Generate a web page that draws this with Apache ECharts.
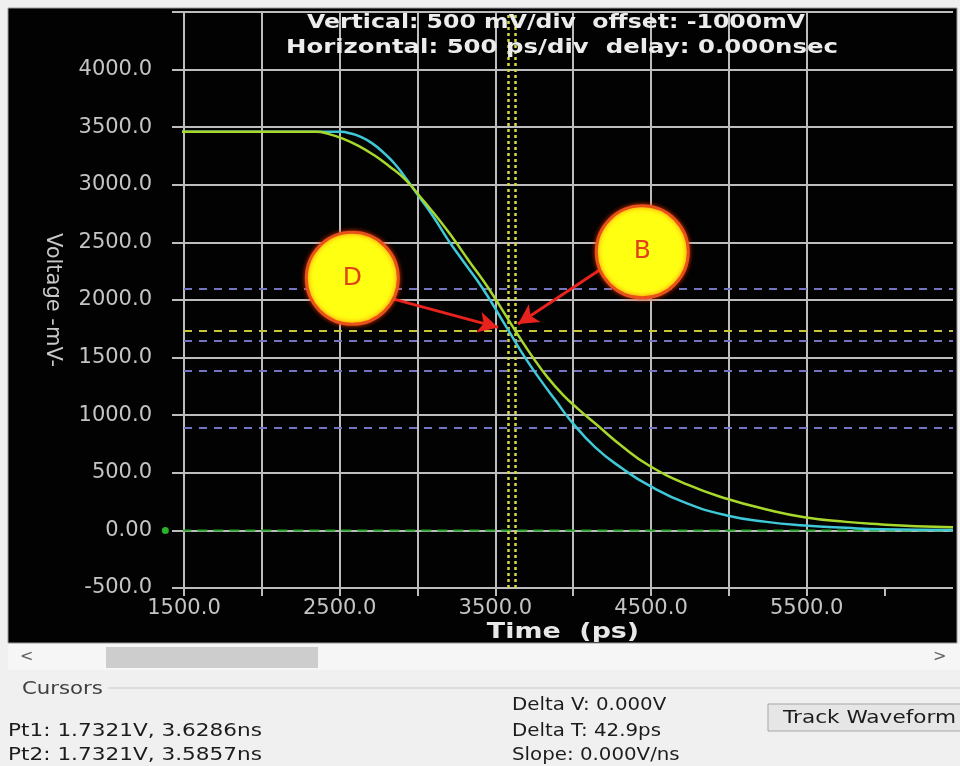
<!DOCTYPE html>
<html><head><meta charset="utf-8">
<script src="https://cdn.jsdelivr.net/npm/echarts@6/dist/echarts.min.js"></script>
<style>html,body{margin:0;padding:0;background:#f0f0f0;}#c{width:960px;height:766px;}</style>
</head><body><div id="c"></div>
<script>
// ---- axes ----
const xMin = 1500, xMax = 6440, xStep = 500;
const yMin = -500, yMax = 4500, yStep = 500;
const xTickValues = [1500, 2000, 2500, 3000, 3500, 4000, 4500, 5000, 5500, 6000];
const xLabelValues = [1500, 2500, 3500, 4500, 5500];
const yLabelValues = [-500, 0, 500, 1000, 1500, 2000, 2500, 3000, 3500, 4000];

// ---- waveforms (time ps, voltage mV) ----
const cyanTime = [1425, 2509, 2573, 2624, 2707, 2794, 2860, 2924, 3007, 3103, 3192, 3288, 3416, 3586, 3690, 3793, 3888, 3984, 4144, 4316, 4487, 4731, 4987, 5242, 5485, 5753, 5983, 6440];
const cyanVolt = [3460, 3460, 3445, 3423, 3362, 3264, 3172, 3059, 2903, 2721, 2531, 2348, 2106, 1732, 1502, 1300, 1127, 953, 719, 537, 390, 234, 130, 74, 43, 22, 9, 3];
const greenTime = [1425, 2349, 2432, 2528, 2624, 2720, 2816, 2924, 3039, 3135, 3231, 3326, 3454, 3629, 3741, 3837, 3933, 4029, 4157, 4316, 4487, 4731, 4987, 5242, 5485, 5754, 5983, 6200, 6440];
const greenVolt = [3460, 3460, 3440, 3397, 3336, 3258, 3163, 3042, 2860, 2704, 2531, 2348, 2106, 1732, 1502, 1326, 1179, 1057, 910, 728, 563, 399, 275, 182, 115, 74, 52, 37, 28];

// ---- reference / cursor lines ----
const groundTime = [1380, 6440];
const groundVolt = [0, 0];
const refLevels = [2095, 1645, 1385, 895];
const cursorLevel = 1732.1;
const cursorTimes = [3585.7, 3628.6];

// ---- callouts ----
const calloutNames = ['D', 'B'];
const calloutTime = [2581, 4444];
const calloutVolt = [2188, 2418];
const arrowFromTime = [2847, 4182];
const arrowFromVolt = [2008, 2271];
const arrowToTime = [3518, 3646];
const arrowToVolt = [1762, 1791];

// ---- texts ----
const headerLine1 = 'Vertical: 500 mV/div  offset: -1000mV';
const headerLine2 = 'Horizontal: 500 ps/div  delay: 0.000nsec';
const xTitle = 'Time  (ps)';
const yTitle = 'Voltage -mV-';
const pt1Text = 'Pt1: 1.7321V, 3.6286ns';
const pt2Text = 'Pt2: 1.7321V, 3.5857ns';
const deltaVText = 'Delta V: 0.000V';
const deltaTText = 'Delta T: 42.9ps';
const slopeText = 'Slope: 0.000V/ns';
const cursorsTitle = 'Cursors';
const buttonText = 'Track Waveform';

const zip = (a, b) => a.map((v, i) => [v, b[i]]);
const gridColor = '#bdbdbd';
const FF = 'DejaVu Sans';

function txt(x, y, text, size, color, opts) {
  opts = opts || {};
  return {
    type: 'text', x: x, y: y, scaleX: opts.sx || 1, z: 20,
    style: {
      text: text, x: 0, y: 0, fill: color,
      font: (opts.bold ? 'bold ' : '') + size + 'px "' + FF + '"',
      align: opts.align || 'left', verticalAlign: 'middle',
      textAlign: opts.align || 'left', textVerticalAlign: 'middle'
    }
  };
}

const chart = echarts.init(document.getElementById('c'));
const option = {
  animation: false,
  backgroundColor: 'transparent',
  grid: { left: 184, right: 7, top: 12, bottom: 178, containLabel: false },
  xAxis: {
    type: 'value', min: xMin, max: xMax, interval: xStep,
    axisLine: { show: false, onZero: false },
    axisTick: { show: true, inside: false, length: 8, customValues: xTickValues, lineStyle: { color: gridColor, width: 2 } },
    axisLabel: {
      customValues: xLabelValues,
      formatter: v => xLabelValues.includes(v) ? v.toFixed(1) : '',
      color: '#c4c4c4', fontSize: 21, fontFamily: FF, margin: 10
    },
    splitLine: { show: true, showMinLine: true, showMaxLine: false, lineStyle: { color: gridColor, width: 2 } }
  },
  yAxis: {
    type: 'value', min: yMin, max: yMax, interval: yStep,
    name: yTitle, nameLocation: 'middle', nameRotate: -90, nameGap: 121,
    nameTextStyle: { color: '#c8c8c8', fontSize: 21, fontFamily: FF },
    axisLine: { show: false },
    axisTick: { show: true, inside: false, length: 12, lineStyle: { color: gridColor, width: 2 } },
    axisLabel: {
      customValues: yLabelValues,
      formatter: v => yLabelValues.includes(v) ? (v === 0 ? '0.00' : v.toFixed(1)) : '',
      color: '#c4c4c4', fontSize: 21, fontFamily: FF, margin: 32
    },
    splitLine: { show: true, lineStyle: { color: gridColor, width: 2 } }
  },
  series: [
    {
      type: 'line', name: 'ground', data: zip(groundTime, groundVolt), symbol: 'none', clip: false, z: 3,
      lineStyle: { color: '#2aa52a', width: 2, type: [10, 6] },
      markLine: {
        silent: true, symbol: ['none', 'none'], label: { show: false },
        data: refLevels.map(v => ({ yAxis: v, lineStyle: { color: '#7474c0', width: 2, type: [8, 7] } }))
          .concat([{ yAxis: cursorLevel, lineStyle: { color: '#c6c63c', width: 2, type: [8, 7] } }])
          .concat(cursorTimes.map(t => ({ xAxis: t, lineStyle: { color: '#d8d842', width: 2.5, type: [3, 3] } })))
      }
    },
    {
      type: 'scatter', name: 'groundMarker', data: [[groundTime[0], groundVolt[0]]], symbolSize: 7, clip: false, z: 4,
      itemStyle: { color: '#32e032' }
    },
    {
      type: 'line', name: 'cyan', data: zip(cyanTime, cyanVolt), symbol: 'none', smooth: 0.5, clip: false, z: 5,
      lineStyle: { color: '#3fc8d8', width: 2.5 }
    },
    {
      type: 'line', name: 'green', data: zip(greenTime, greenVolt), symbol: 'none', smooth: 0.5, clip: false, z: 6,
      lineStyle: { color: '#a8d82c', width: 2.5 }
    },
    {
      type: 'line', name: 'callouts', data: zip(calloutTime, calloutVolt), symbol: 'none', lineStyle: { opacity: 0 }, z: 10,
      markLine: {
        silent: true, symbol: ['none', 'arrow'], symbolSize: [16, 20], label: { show: false },
        lineStyle: { color: '#e8221c', width: 3, type: 'solid' },
        data: arrowFromTime.map((t, i) => [{ coord: [t, arrowFromVolt[i]] }, { coord: [arrowToTime[i], arrowToVolt[i]] }])
      },
      markPoint: {
        silent: true, symbol: 'circle', symbolSize: 92,
        itemStyle: { color: '#ffff12', borderColor: '#e8521a', borderWidth: 3, shadowBlur: 5, shadowColor: 'rgba(255,60,0,0.7)' },
        label: { show: true, formatter: p => p.name, color: '#e2421a', fontSize: 25, fontFamily: FF },
        data: calloutNames.map((n, i) => ({ name: n, coord: [calloutTime[i], calloutVolt[i]] }))
      }
    }
  ],
  graphic: [
    { type: 'rect', z: -10, shape: { x: 8, y: 8, width: 949, height: 635 }, style: { fill: '#020202', stroke: '#9a9a9a', lineWidth: 1 } },
    txt(556, 23, headerLine1, 20, '#ececec', { bold: true, align: 'center', sx: 1.18 }),
    txt(562, 48, headerLine2, 20, '#ececec', { bold: true, align: 'center', sx: 1.22 }),
    txt(563, 633, xTitle, 21, '#e8e8e8', { bold: true, align: 'center', sx: 1.28 }),
    // scrollbar
    { type: 'rect', z: 1, shape: { x: 8, y: 644, width: 952, height: 26 }, style: { fill: '#f6f6f6' } },
    { type: 'rect', z: 2, shape: { x: 106, y: 647, width: 212, height: 21 }, style: { fill: '#cdcdcd' } },
    txt(20, 657, '<', 16, '#606060'),
    txt(933, 657, '>', 16, '#606060'),
    // cursors group
    { type: 'line', z: 1, shape: { x1: 108, y1: 688, x2: 960, y2: 688 }, style: { stroke: '#d6d6d6', lineWidth: 1.5 } },
    txt(22, 690, cursorsTitle, 17, '#404040', { sx: 1.25 }),
    txt(8, 731, pt1Text, 18, '#1c1c1c', { sx: 1.2 }),
    txt(8, 755, pt2Text, 18, '#1c1c1c', { sx: 1.2 }),
    txt(512, 705, deltaVText, 18, '#1c1c1c', { sx: 1.1 }),
    txt(512, 731, deltaTText, 18, '#1c1c1c', { sx: 1.1 }),
    txt(512, 755, slopeText, 18, '#1c1c1c', { sx: 1.1 }),
    { type: 'rect', z: 1, shape: { x: 768, y: 704, width: 200, height: 27 }, style: { fill: '#e6e6e6', stroke: '#a6a6a6', lineWidth: 1 } },
    txt(783, 718, buttonText, 18, '#1c1c1c', { sx: 1.2 })
  ]
};
chart.setOption(option);
</script>
</body></html>
